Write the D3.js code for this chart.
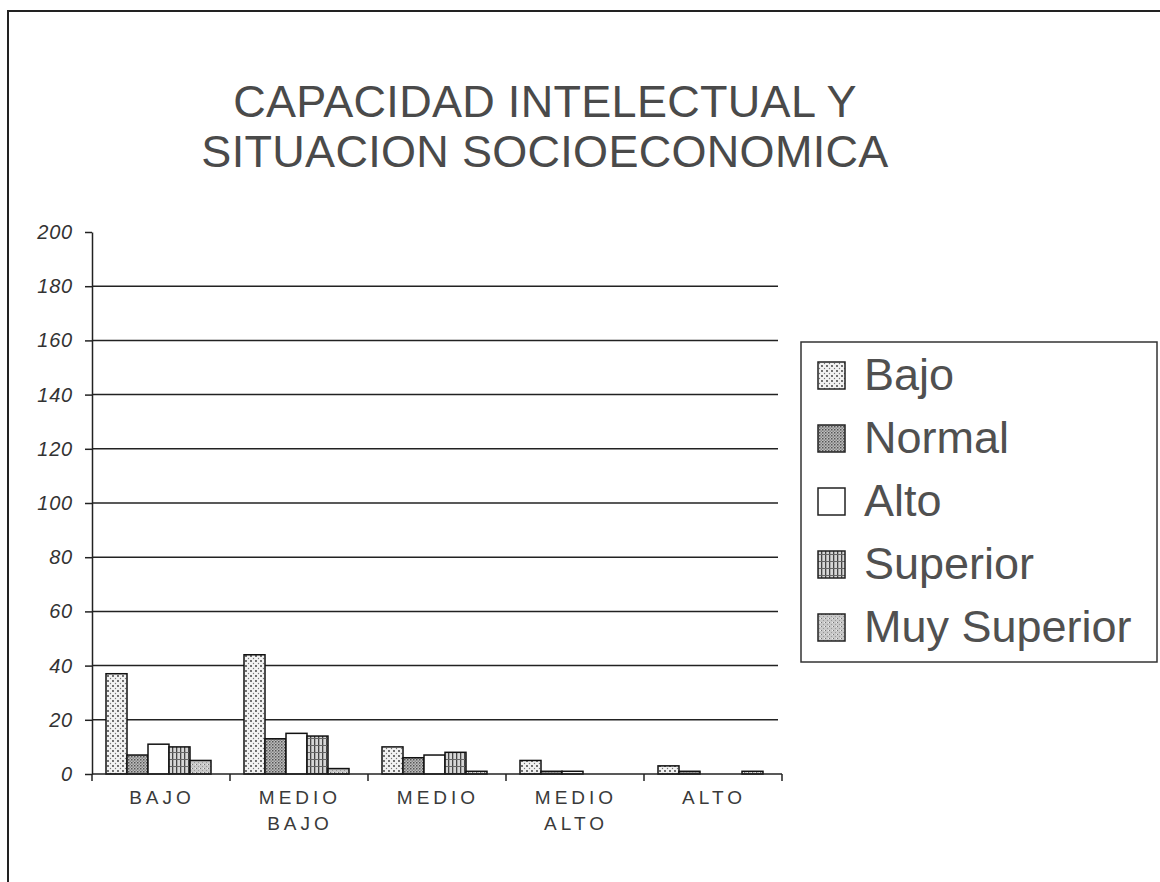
<!DOCTYPE html>
<html>
<head>
<meta charset="utf-8">
<script src="https://d3js.org/d3.v7.min.js"></script>
<style>
  body { margin: 0; background: #fff; }
  text { font-family: "Liberation Sans", Arial, sans-serif; }
</style>
</head>
<body>
<svg id="chart" width="1160" height="882"></svg>
<script>
  // data
  var categories = [["BAJO"], ["MEDIO", "BAJO"], ["MEDIO"], ["MEDIO", "ALTO"], ["ALTO"]];
  var series = ["Bajo", "Normal", "Alto", "Superior", "Muy Superior"];
  var bajo        = [37, 44, 10, 5, 3];
  var normal      = [7, 13, 6, 1, 1];
  var alto        = [11, 15, 7, 1, 0];
  var superior    = [10, 14, 8, 0, 0];
  var muySuperior = [5, 2, 1, 0, 1];
  var yTicks = [0, 20, 40, 60, 80, 100, 120, 140, 160, 180, 200];

  var seriesValues = [bajo, normal, alto, superior, muySuperior];

  var svg = d3.select('#chart');
  var defs = svg.append('defs');

  // fill patterns, roughly like the printed hatches
  var pBajo = defs.append('pattern').attr('id', 'p0')
    .attr('width', 5).attr('height', 5).attr('patternUnits', 'userSpaceOnUse');
  pBajo.append('rect').attr('width', 5).attr('height', 5).attr('fill', '#f2f2f2');
  pBajo.append('circle').attr('cx', 1).attr('cy', 1).attr('r', 0.9).attr('fill', '#333');
  pBajo.append('circle').attr('cx', 3.5).attr('cy', 3.5).attr('r', 0.7).attr('fill', '#777');

  var pNormal = defs.append('pattern').attr('id', 'p1')
    .attr('width', 3).attr('height', 3).attr('patternUnits', 'userSpaceOnUse');
  pNormal.append('rect').attr('width', 3).attr('height', 3).attr('fill', '#bdbdbd');
  pNormal.append('rect').attr('width', 1.5).attr('height', 1.5).attr('fill', '#555');
  pNormal.append('rect').attr('x', 1.5).attr('y', 1.5).attr('width', 1.5).attr('height', 1.5).attr('fill', '#888');

  var pAlto = defs.append('pattern').attr('id', 'p2')
    .attr('width', 4).attr('height', 4).attr('patternUnits', 'userSpaceOnUse');
  pAlto.append('rect').attr('width', 4).attr('height', 4).attr('fill', '#fff');

  var pSup = defs.append('pattern').attr('id', 'p3')
    .attr('width', 4).attr('height', 7).attr('patternUnits', 'userSpaceOnUse');
  pSup.append('rect').attr('width', 4).attr('height', 7).attr('fill', '#d6d6d6');
  pSup.append('rect').attr('width', 1.3).attr('height', 7).attr('fill', '#444');
  pSup.append('rect').attr('y', 3).attr('width', 4).attr('height', 1).attr('fill', '#666');

  var pMuy = defs.append('pattern').attr('id', 'p4')
    .attr('width', 4).attr('height', 4).attr('patternUnits', 'userSpaceOnUse');
  pMuy.append('rect').attr('width', 4).attr('height', 4).attr('fill', '#c8c8c8');
  pMuy.append('rect').attr('width', 1).attr('height', 1).attr('fill', '#777');
  pMuy.append('rect').attr('x', 2).attr('y', 2).attr('width', 1).attr('height', 1).attr('fill', '#999');
  pMuy.append('rect').attr('x', 3).attr('y', 0).attr('width', 1).attr('height', 1).attr('fill', '#eee');

  var fills = ['url(#p0)', 'url(#p1)', 'url(#p2)', 'url(#p3)', 'url(#p4)'];

  // outer frame (runs off the right and bottom of the scan)
  svg.append('path')
    .attr('d', 'M8,890 L8,11 L1170,11')
    .attr('fill', 'none').attr('stroke', '#222').attr('stroke-width', 2);

  // title
  var title = svg.append('text')
    .attr('text-anchor', 'middle')
    .attr('font-size', 45).attr('letter-spacing', 0.3).attr('fill', '#4a4a4a');
  title.append('tspan').attr('x', 545).attr('y', 117).text('CAPACIDAD INTELECTUAL Y');
  title.append('tspan').attr('x', 545).attr('y', 167).text('SITUACION SOCIOECONOMICA');

  var plotLeft = 92, plotRight = 782, plotTop = 232, plotBottom = 774;

  var y = d3.scaleLinear().domain([0, 200]).range([plotBottom, plotTop]);
  var x0 = d3.scaleBand().domain(d3.range(categories.length)).range([plotLeft, plotRight]);
  var x1 = d3.scaleBand().domain(series).range([14, 14 + 105]);

  // gridlines
  svg.append('g')
    .selectAll('line')
    .data(yTicks.filter(function(d) { return d > 0 && d < 200; }))
    .enter().append('line')
      .attr('x1', plotLeft).attr('x2', 778)
      .attr('y1', function(d) { return y(d); })
      .attr('y2', function(d) { return y(d); })
      .attr('stroke', '#222').attr('stroke-width', 1.5);

  // y axis
  var yAxis = svg.append('g')
    .attr('transform', 'translate(' + plotLeft + ',0)')
    .call(d3.axisLeft(y).tickValues(yTicks).tickSize(7).tickPadding(12).tickSizeOuter(0));
  yAxis.select('.domain').attr('stroke', '#222').attr('stroke-width', 1.5);
  yAxis.selectAll('.tick line').attr('stroke', '#222').attr('stroke-width', 1.5);
  yAxis.selectAll('.tick text')
    .attr('font-size', 20).attr('font-style', 'italic').attr('letter-spacing', 0.8)
    .attr('fill', '#333')
    .attr('font-family', '"Liberation Sans", Arial, sans-serif');

  // bars
  var groups = svg.append('g').selectAll('g')
    .data(categories)
    .enter().append('g')
      .attr('transform', function(d, i) { return 'translate(' + x0(i) + ',0)'; });

  groups.selectAll('rect')
    .data(function(d, i) {
      return series.map(function(s, k) { return { s: s, k: k, v: seriesValues[k][i] }; });
    })
    .enter().append('rect')
      .attr('x', function(d) { return x1(d.s); })
      .attr('width', x1.bandwidth())
      .attr('y', function(d) { return y(d.v); })
      .attr('height', function(d) { return y(0) - y(d.v); })
      .attr('fill', function(d) { return fills[d.k]; })
      .attr('stroke', '#111').attr('stroke-width', 1.5);

  // x axis line + category ticks
  svg.append('line')
    .attr('x1', plotLeft).attr('x2', plotRight).attr('y1', plotBottom).attr('y2', plotBottom)
    .attr('stroke', '#222').attr('stroke-width', 1.5);
  svg.append('g').selectAll('line')
    .data(d3.range(categories.length + 1))
    .enter().append('line')
      .attr('x1', function(i) { return plotLeft + i * x0.bandwidth(); })
      .attr('x2', function(i) { return plotLeft + i * x0.bandwidth(); })
      .attr('y1', plotBottom).attr('y2', plotBottom + 7)
      .attr('stroke', '#222').attr('stroke-width', 1.5);

  // category labels
  var labels = svg.append('g').selectAll('text')
    .data(categories)
    .enter().append('text')
      .attr('text-anchor', 'middle')
      .attr('font-size', 19).attr('letter-spacing', 4).attr('fill', '#3a3a3a');
  labels.selectAll('tspan')
    .data(function(d, i) { return d.map(function(t) { return { t: t, i: i }; }); })
    .enter().append('tspan')
      .attr('x', function(d) { return x0(d.i) + x0.bandwidth() / 2 + 1; })
      .attr('y', function(d, j) { return 804 + j * 26; })
      .text(function(d) { return d.t; });

  // legend
  var lg = svg.append('g').attr('transform', 'translate(801,342)');
  lg.append('rect').attr('width', 356).attr('height', 320)
    .attr('fill', '#fff').attr('stroke', '#333').attr('stroke-width', 1.5);
  var items = lg.selectAll('.item')
    .data(series)
    .enter().append('g')
      .attr('class', 'item')
      .attr('transform', function(d, i) { return 'translate(0,' + (48 + i * 63) + ')'; });
  items.append('rect')
    .attr('x', 17).attr('y', -28).attr('width', 27).attr('height', 27)
    .attr('fill', function(d, i) { return fills[i]; })
    .attr('stroke', '#222').attr('stroke-width', 1.5);
  items.append('text')
    .attr('x', 63).attr('y', 0)
    .attr('font-size', 45).attr('fill', '#505050')
    .text(function(d) { return d; });
</script>
</body>
</html>
